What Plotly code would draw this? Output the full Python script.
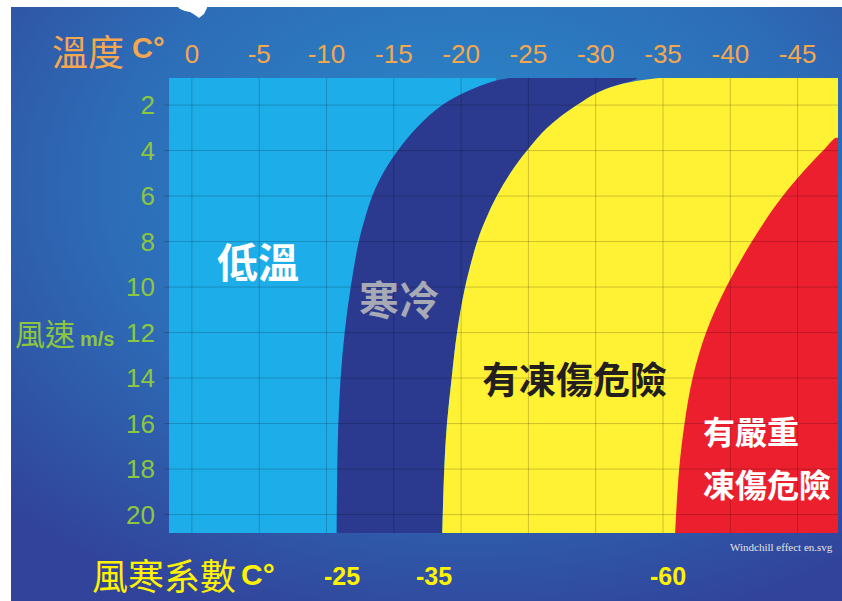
import base64
import plotly.graph_objects as go

# ---------------- data ----------------
temp_ticks = [0, -5, -10, -15, -20, -25, -30, -35, -40, -45]
temp_tick_labels = ["0", "-5", "-10", "-15", "-20", "-25", "-30", "-35", "-40", "-45"]
wind_ticks = [2, 4, 6, 8, 10, 12, 14, 16, 18, 20]
wind_tick_labels = ["2", "4", "6", "8", "10", "12", "14", "16", "18", "20"]

# wind-chill contour boundaries (temperature at a given wind speed)
wind_samples = [0.81, 1.3, 2, 3, 4, 5, 6, 7, 8, 10, 12, 14, 16, 18, 20.81]
temp_chill_25 = [-23.6, -20.8, -18.6, -16.7, -15.3, -14.2, -13.4, -12.85, -12.4, -11.8, -11.35, -11.05, -10.88, -10.8, -10.75]
temp_chill_35 = [-34.7, -30.7, -28.6, -26.4, -24.9, -23.65, -22.65, -21.85, -21.2, -20.3, -19.7, -19.3, -18.95, -18.75, -18.6]
wind_severe = [3.45, 4, 6, 8, 10, 12, 14, 16, 18, 20.81]
temp_chill_60 = [-48.0, -46.9, -43.9, -41.6, -39.7, -38.2, -37.2, -36.6, -36.2, -35.9]
low_band_top_end = -22.6
cold_band_top_end = -33.1

chill_labels = ["-25", "-35", "-60"]
chill_bottom_temps = [temp_chill_25[-1], temp_chill_35[-1], temp_chill_60[-1]]

zone_names = ["低溫", "寒冷", "有凍傷危險", "有嚴重", "凍傷危險"]

# axis extents
T_HI, T_LO = 1.7, -48.0
V_TOP, V_BOT = 0.81, 20.81

# ---------------- layout helpers ----------------
W, H = 842, 601
L, R, T, B = 169, 838, 78, 533


def px(x):
    return (x - L) / (R - L)


def py(y):
    return (B - y) / (B - T)


C_LIGHT = "#1daeea"
C_DARK = "#2b3a8f"
C_YELLOW = "#fff134"
C_RED = "#ec1f2e"
ORANGE = "#f5a74e"
GREEN = "#8dc63f"
YELLOW_TXT = "#fff200"
CJK = "Noto Sans CJK TC, Noto Sans CJK SC, sans-serif"
SANS = "Liberation Sans, Arial, sans-serif"

fig = go.Figure()

# light blue (low temperature) band
fig.add_trace(go.Scatter(
    x=[T_HI, low_band_top_end, low_band_top_end, T_HI],
    y=[V_TOP, V_TOP, V_BOT, V_BOT],
    fill="toself", fillcolor=C_LIGHT, mode="lines", line=dict(width=0),
    hoverinfo="skip", showlegend=False))

# dark blue (cold) band between -25 and -35 contours
xd = temp_chill_25[::-1] + [cold_band_top_end] + temp_chill_35[1:]
yd = wind_samples[::-1] + [V_TOP] + wind_samples[1:]
fig.add_trace(go.Scatter(
    x=xd, y=yd, fill="toself", fillcolor=C_DARK, mode="lines",
    line=dict(width=0, shape="spline", smoothing=1.0),
    hoverinfo="skip", showlegend=False))

# yellow (frostbite risk) band
xy = temp_chill_35[::-1] + [T_LO, T_LO]
yy = wind_samples[::-1] + [V_TOP, V_BOT]
fig.add_trace(go.Scatter(
    x=xy, y=yy, fill="toself", fillcolor=C_YELLOW, mode="lines",
    line=dict(width=0, shape="spline", smoothing=1.0),
    hoverinfo="skip", showlegend=False))

# red (severe frostbite) band
xr = temp_chill_60[::-1] + [T_LO]
yr = wind_severe[::-1] + [V_BOT]
fig.add_trace(go.Scatter(
    x=xr, y=yr, fill="toself", fillcolor=C_RED, mode="lines",
    line=dict(width=0, shape="spline", smoothing=1.0),
    hoverinfo="skip", showlegend=False))

# ---------------- grid lines above fills ----------------
shapes = []
GRID = "rgba(0,0,0,0.2)"
for t in temp_ticks:
    shapes.append(dict(type="line", xref="x", yref="paper", x0=t, x1=t, y0=0, y1=1,
                       line=dict(color=GRID, width=1), layer="above"))
for v in wind_ticks:
    shapes.append(dict(type="line", xref="paper", yref="y", x0=-0.007, x1=1, y0=v, y1=v,
                       line=dict(color=GRID, width=1), layer="above"))

# small white blot at the top edge of the picture
blot = [(176, 0), (208, 0), (207, 8), (204, 14), (199, 18), (195, 15), (190, 12),
        (185, 11), (180, 9), (177, 6)]
path = "M " + " L ".join(f"{px(a):.5f},{py(b):.5f}" for a, b in blot) + " Z"
shapes.append(dict(type="path", xref="paper", yref="paper", path=path,
                   fillcolor="white", line=dict(width=0), layer="above"))

# ---------------- background gradient ----------------
bw, bh = 831, 594
svg = (
    f'<svg xmlns="http://www.w3.org/2000/svg" width="{bw}" height="{bh}" '
    f'viewBox="0 0 {bw} {bh}" preserveAspectRatio="none">'
    '<defs><radialGradient id="g" cx="0.55" cy="0.3" r="0.78">'
    '<stop offset="0" stop-color="#2a8bcd"/>'
    '<stop offset="0.55" stop-color="#2d6db7"/>'
    '<stop offset="1" stop-color="#31439a"/>'
    '</radialGradient></defs>'
    f'<rect width="{bw}" height="{bh}" fill="url(#g)"/></svg>'
)
bg_src = "data:image/svg+xml;base64," + base64.b64encode(svg.encode()).decode()

images = [dict(source=bg_src, xref="paper", yref="paper",
               x=px(11), y=py(7), sizex=(W - 11) / (R - L), sizey=(H - 7) / (B - T),
               xanchor="left", yanchor="top", sizing="stretch", layer="below")]

# ---------------- annotations ----------------
ann = []
ann.append(dict(text="溫度", x=px(88), y=py(50), font=dict(family=CJK, size=36, color=ORANGE)))
ann.append(dict(text="<b>C°</b>", x=px(148), y=py(48), font=dict(family=SANS, size=29, color=ORANGE)))
ann.append(dict(text="風速", x=px(45), y=py(332), font=dict(family=CJK, size=30, color=GREEN)))
ann.append(dict(text="<b>m/s</b>", x=px(97), y=py(339), font=dict(family=SANS, size=20, color=GREEN)))
ann.append(dict(text="風寒系數", x=px(164), y=py(574), font=dict(family=CJK, size=36, color=YELLOW_TXT)))
ann.append(dict(text="<b>C°</b>", x=px(258), y=py(574), font=dict(family=SANS, size=30, color=YELLOW_TXT)))

shifts = [5, -8, -7]
for lab, t, s in zip(chill_labels, chill_bottom_temps, shifts):
    ann.append(dict(text=f"<b>{lab}</b>", x=t, xref="x", y=py(576), xshift=s,
                    font=dict(family=SANS, size=25, color=YELLOW_TXT)))

zone_pos = [(-4.9, 8.8), (-15.4, 10.5), (-28.4, 14.0), (-37.8, 16.3), (-37.8, 18.6)]
zone_style = [
    dict(size=41, color="white"),
    dict(size=40, color="#a7a9b4"),
    dict(size=37, color="#231f20"),
    dict(size=32, color="white"),
    dict(size=32, color="white"),
]
zone_anchor = ["center", "center", "center", "left", "left"]
for name, (zx, zy), st, anc in zip(zone_names, zone_pos, zone_style, zone_anchor):
    ann.append(dict(text=name, x=zx, y=zy, xref="x", yref="y", xanchor=anc,
                    font=dict(family=CJK, size=st["size"], color=st["color"], weight="bold")))

ann.append(dict(text="Windchill effect en.svg", x=px(835), y=py(547), xanchor="right",
                font=dict(family="Liberation Serif, serif", size=11, color="#e4e4e4")))

for a in ann:
    a.setdefault("xref", "paper")
    a.setdefault("yref", "paper")
    a.setdefault("xanchor", "center")
    a.setdefault("yanchor", "middle")
    a["showarrow"] = False

fig.update_layout(
    width=W, height=H, autosize=False,
    margin=dict(l=L, r=W - R, t=T, b=H - B, pad=0),
    paper_bgcolor="white", plot_bgcolor="rgba(0,0,0,0)",
    shapes=shapes, images=images, annotations=ann,
    xaxis=dict(range=[T_HI, T_LO], side="top", tickvals=temp_ticks, ticktext=temp_tick_labels,
               showgrid=False, zeroline=False, showline=False, ticks="",
               tickfont=dict(family=SANS, size=26, color=ORANGE), automargin=False,
               ticklabelstandoff=9, fixedrange=True),
    yaxis=dict(range=[V_BOT, V_TOP], tickvals=wind_ticks, ticktext=wind_tick_labels,
               showgrid=False, zeroline=False, showline=False, ticks="",
               tickfont=dict(family=SANS, size=26, color=GREEN), automargin=False,
               ticklabelstandoff=13, fixedrange=True),
    showlegend=False,
)

fig.write_html(
    "out.html",
    config={"displayModeBar": False, "staticPlot": True},
    post_script="document.body.style.margin='0';document.body.style.overflow='hidden';",
)
